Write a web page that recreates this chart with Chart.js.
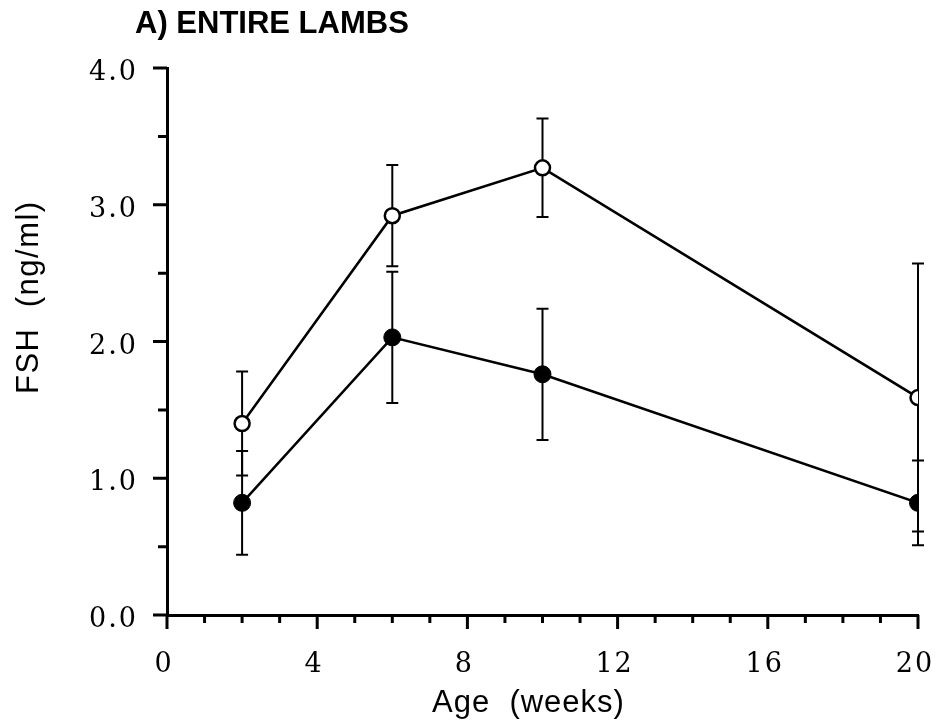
<!DOCTYPE html>
<html>
<head>
<meta charset="utf-8">
<title>FSH - entire lambs</title>
<script src="https://cdn.jsdelivr.net/npm/chart.js@4"></script>
<style>
  html, body { margin: 0; padding: 0; background: #fff; }
  #wrap { width: 940px; height: 726px; }
</style>
</head>
<body>
<div id="wrap"><canvas id="fsh" width="940" height="726"></canvas></div>
<script>
// sampling ages (weeks)
const weeks = [2, 6, 10, 20];

// open circles
const openMean = [1.40, 2.92, 3.27, 1.59];
const openSem = [0.38, 0.37, 0.36, 0.98];

// filled circles
const filledMean = [0.82, 2.03, 1.76, 0.82];
const filledSem = [0.38, 0.48, 0.48, 0.31];

const xTickLabels = ['0', '4', '8', '12', '16', '20'];
const yTickLabels = ['0.0', '1.0', '2.0', '3.0', '4.0'];

const panelTitle = 'A) ENTIRE LAMBS';
const xTitle = 'Age  (weeks)';
const yTitle = 'FSH  (ng/ml)';

const points = (ys) => weeks.map((w, i) => ({ x: w, y: ys[i] }));

// vertical SEM bars with caps, drawn under the markers
const errorBars = {
  id: 'errorBars',
  beforeDatasetsDraw(chart) {
    const { ctx, scales: { x, y } } = chart;
    const sets = [[openMean, openSem], [filledMean, filledSem]];
    ctx.save();
    ctx.strokeStyle = '#000';
    ctx.lineWidth = 2;
    sets.forEach(([m, e]) => {
      weeks.forEach((w, i) => {
        const px = x.getPixelForValue(w);
        const top = y.getPixelForValue(m[i] + e[i]);
        const bot = y.getPixelForValue(m[i] - e[i]);
        ctx.beginPath();
        ctx.moveTo(px, top); ctx.lineTo(px, bot);
        ctx.moveTo(px - 6, top); ctx.lineTo(px + 6, top);
        ctx.moveTo(px - 6, bot); ctx.lineTo(px + 6, bot);
        ctx.stroke();
      });
    });
    ctx.restore();
  }
};

// outward tick marks (long at labelled values) plus the titles
const tickMarks = {
  id: 'tickMarks',
  beforeDraw(chart) {
    chart.ctx.letterSpacing = '2px';
  },
  afterDraw(chart) {
    const { ctx, scales: { x, y }, chartArea: a } = chart;
    ctx.save();
    ctx.strokeStyle = '#000';
    ctx.lineWidth = 3;
    ctx.beginPath();
    for (let v = 0; v <= 4; v += 0.5) {
      const py = y.getPixelForValue(v);
      const len = Number.isInteger(v) ? 14 : 9;
      ctx.moveTo(a.left, py); ctx.lineTo(a.left - len, py);
    }
    for (let v = 0; v <= 20; v++) {
      const px = x.getPixelForValue(v);
      const len = v % 4 === 0 ? 14 : 8;
      ctx.moveTo(px, a.bottom); ctx.lineTo(px, a.bottom + len);
    }
    ctx.stroke();

    ctx.fillStyle = '#000';
    ctx.textBaseline = 'alphabetic';
    ctx.textAlign = 'left';
    ctx.letterSpacing = '0px';
    ctx.font = 'bold 31px "Liberation Sans", Arial, sans-serif';
    ctx.fillText(panelTitle, 135, 33);
    ctx.font = '31px "Liberation Sans", Arial, sans-serif';
    ctx.letterSpacing = '1px';
    ctx.fillText(xTitle, 432, 712);
    ctx.letterSpacing = '1.5px';
    ctx.translate(38, 394);
    ctx.rotate(-Math.PI / 2);
    ctx.fillText(yTitle, 0, 0);
    ctx.restore();
  }
};

const tickFont = { family: '"DejaVu Serif", serif', size: 27 };

new Chart(document.getElementById('fsh'), {
  type: 'line',
  data: {
    datasets: [
      {
        data: points(openMean),
        borderColor: '#000',
        borderWidth: 2.5,
        pointRadius: 7.5,
        pointBorderWidth: 2.5,
        pointBackgroundColor: '#fff',
        pointBorderColor: '#000'
      },
      {
        data: points(filledMean),
        borderColor: '#000',
        borderWidth: 2.5,
        pointRadius: 8.5,
        pointBorderWidth: 1,
        pointBackgroundColor: '#000',
        pointBorderColor: '#000'
      }
    ]
  },
  options: {
    responsive: false,
    animation: false,
    layout: { padding: { top: 68, right: 22, left: 0, bottom: 0 } },
    plugins: { legend: { display: false }, tooltip: { enabled: false } },
    scales: {
      x: {
        type: 'linear',
        min: 0,
        max: 20,
        grid: { display: false },
        border: { display: true, color: '#000', width: 3 },
        afterFit: (s) => { s.height = 111; s.paddingLeft = 0; s.paddingRight = 0; },
        ticks: {
          stepSize: 4,
          maxRotation: 0,
          autoSkip: false,
          padding: 26,
          labelOffset: -3,
          color: '#000',
          font: tickFont,
          callback: (v, i) => xTickLabels[i]
        }
      },
      y: {
        min: 0,
        max: 4,
        grid: { display: false },
        border: { display: true, color: '#000', width: 3 },
        afterFit: (s) => { s.width = 167; s.paddingTop = 0; s.paddingBottom = 0; },
        ticks: {
          stepSize: 1,
          padding: 21,
          labelOffset: 5,
          color: '#000',
          font: tickFont,
          callback: (v, i) => yTickLabels[i]
        }
      }
    }
  },
  plugins: [errorBars, tickMarks]
});
</script>
</body>
</html>
